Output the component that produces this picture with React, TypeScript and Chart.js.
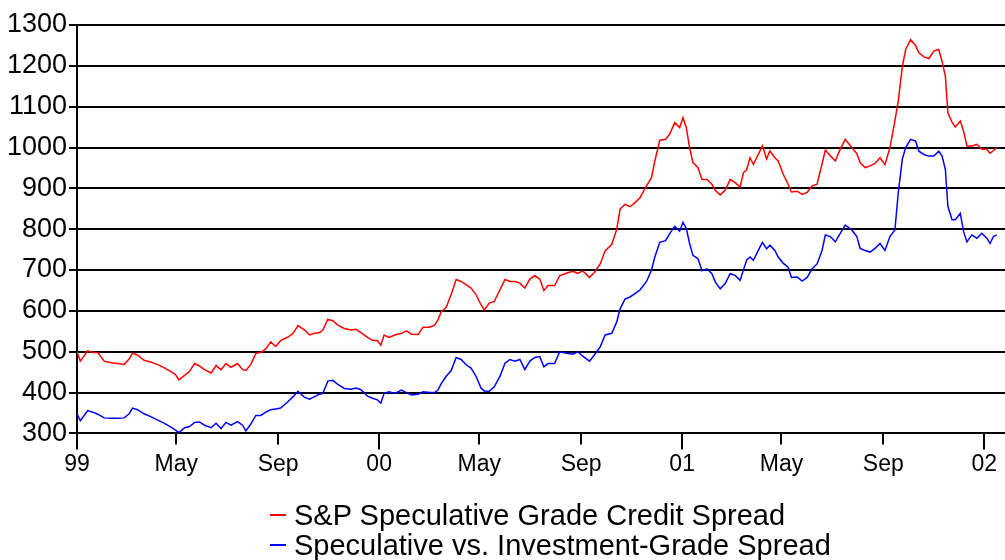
import React, { useEffect, useRef } from "react";
import { Chart, registerables } from "chart.js";

Chart.register(...registerables);

// Days since 1 Jan 1999
const days = [
  0, 4, 13, 19, 25, 33, 41, 49, 57, 63, 67, 73, 81, 89, 97, 105, 113, 119, 123, 130, 136, 142, 148, 154, 162, 168, 174, 180, 186, 194, 200, 204, 210, 216, 222, 228, 234, 240, 246, 255, 261, 267,
  275, 281, 287, 293, 297, 303, 309, 315, 323, 331, 337, 343, 351, 357, 363, 367, 371, 377, 384, 392, 398, 404, 412, 418, 426, 432, 436, 440, 446, 452, 458, 464, 470, 476, 482, 488, 492, 498, 504, 511, 517, 523, 529, 535, 541, 547, 553,
  559, 564, 569, 577, 583, 591, 599, 605, 611, 619, 625, 632, 638, 646, 652, 656, 662, 668, 674, 680, 688, 694, 698, 704, 711, 716, 722, 728, 732, 736, 740, 744, 750, 755, 761, 767, 771, 777, 783, 789, 795, 801, 805, 809, 813, 817, 823, 828, 833,
  837, 843, 847, 853, 859, 863, 870, 876, 882, 888, 894, 900, 904, 910, 916, 922, 928, 936, 942, 946, 952, 958, 964, 970, 976, 982, 988, 992, 997, 1001, 1007, 1013, 1017, 1023, 1029, 1035, 1041, 1045, 1049, 1052, 1057, 1061, 1067, 1071, 1075, 1081, 1087, 1093, 1099, 1103, 1107, 1111,
];

const speculativeGradeSpread = [
  500, 477, 502, 498, 498, 477, 473, 471, 469, 482, 496, 492, 479, 475, 469, 461, 452, 444, 431, 442, 452, 471, 465, 456, 448, 466, 456, 471, 462, 471, 456, 454, 469, 496, 498, 507, 524, 513, 527, 536, 545, 564,
  553, 541, 545, 547, 553, 579, 576, 565, 557, 553, 555, 547, 535, 528, 527, 516, 541, 535, 541, 545, 551, 543, 542, 560, 560, 565, 578, 598, 609, 640, 677, 672, 664, 656, 640, 615, 602, 619, 623, 652, 677, 672, 672, 668, 656, 678, 686,
  678, 650, 662, 662, 686, 692, 697, 692, 698, 682, 694, 715, 747, 763, 800, 849, 861, 855, 865, 877, 906, 926, 967, 1018, 1020, 1033, 1061, 1049, 1073, 1049, 1000, 963, 951, 922, 922, 910, 895, 884, 895, 922, 914, 903, 938, 946, 975, 959, 983, 1004, 972,
  992, 975, 967, 935, 910, 891, 893, 885, 890, 906, 910, 960, 994, 980, 967, 996, 1020, 1000, 985, 963, 951, 955, 961, 975, 958, 1000, 1065, 1113, 1198, 1240, 1264, 1250, 1232, 1222, 1218, 1236, 1240, 1211, 1174, 1085, 1062, 1050, 1065, 1040, 1004, 1004, 1008, 996, 996, 986, 992, 1000,
];

const specVsInvestmentSpread = [
  348, 331, 356, 352, 347, 338, 337, 337, 338, 348, 362, 358, 348, 341, 333, 325, 316, 308, 302, 314, 317, 327, 328, 320, 314, 325, 312, 327, 320, 329, 320, 306, 323, 344, 344, 352, 358, 360, 362, 378, 390, 403,
  388, 384, 390, 396, 398, 428, 430, 420, 410, 408, 411, 407, 391, 386, 382, 374, 398, 402, 398, 406, 400, 394, 396, 402, 400, 400, 406, 422, 440, 454, 486, 481, 468, 460, 440, 411, 404, 403, 414, 440, 472, 481, 477, 481, 456, 477, 486,
  488, 463, 471, 471, 500, 496, 494, 500, 489, 477, 492, 512, 541, 545, 573, 605, 629, 634, 642, 651, 672, 700, 732, 768, 772, 789, 807, 795, 817, 802, 765, 736, 728, 698, 703, 691, 671, 654, 667, 691, 687, 675, 700, 725, 732, 724, 748, 768, 752,
  761, 748, 732, 717, 707, 682, 683, 673, 682, 703, 715, 748, 786, 782, 769, 790, 810, 798, 782, 753, 748, 744, 753, 765, 748, 782, 798, 888, 972, 1000, 1020, 1016, 991, 983, 979, 979, 991, 979, 946, 856, 823, 823, 839, 794, 769, 786, 778, 790, 778, 765, 782, 786,
];

const tickDays = [0, 120, 243, 365, 486, 609, 731, 851, 974, 1096];
const tickLabels = ["99", "May", "Sep", "00", "May", "Sep", "01", "May", "Sep", "02"];
const yearTickDays = [0, 365, 731, 1096];

const seriesNames = ["S&P Speculative Grade Credit Spread", "Speculative vs. Investment-Grade Spread"];
const seriesColors = ["#ff0000", "#0000ff"];

const FONT = '"Liberation Sans", Arial, sans-serif';

const yearTicksPlugin = {
  id: "yearTicks",
  afterDraw(chart: any) {
    const xs = chart.scales.x;
    const ctx = chart.ctx;
    const bottom = chart.chartArea.bottom;
    ctx.save();
    ctx.strokeStyle = "#000";
    ctx.lineWidth = 2;
    yearTickDays.forEach((d) => {
      const px = Math.round(xs.getPixelForValue(d));
      ctx.beginPath();
      ctx.moveTo(px, bottom + 10);
      ctx.lineTo(px, bottom + 16);
      ctx.stroke();
    });
    ctx.restore();
  },
};

export default function App() {
  const canvasRef = useRef<HTMLCanvasElement | null>(null);

  useEffect(() => {
    document.body.style.margin = "0";
    const series = [speculativeGradeSpread, specVsInvestmentSpread];
    const chart = new Chart(canvasRef.current as HTMLCanvasElement, {
      type: "line",
      data: {
        datasets: series.map((vals, i) => ({
          label: seriesNames[i],
          data: days.map((d, j) => ({ x: d, y: vals[j] })),
          borderColor: seriesColors[i],
          backgroundColor: seriesColors[i],
          borderWidth: 1.5,
          pointRadius: 0,
          tension: 0,
          fill: false,
        })),
      },
      options: {
        animation: false,
        responsive: true,
        maintainAspectRatio: false,
        layout: { padding: { top: 25, left: 0, right: 0, bottom: 76 } },
        plugins: { legend: { display: false }, tooltip: { enabled: false } },
        scales: {
          x: {
            type: "linear",
            min: 0,
            max: 1121,
            afterBuildTicks: (scale: any) => {
              scale.ticks = tickDays.map((v) => ({ value: v }));
            },
            ticks: {
              autoSkip: false,
              maxRotation: 0,
              padding: 6,
              color: "#000",
              font: { family: FONT, size: 23 },
              callback: (v: any) => {
                const i = tickDays.indexOf(Number(v));
                return i >= 0 ? tickLabels[i] : "";
              },
            },
            grid: { drawOnChartArea: false, drawTicks: true, tickLength: 11, color: "#000", lineWidth: 2 },
            border: { color: "#000", width: 2 },
          },
          y: {
            min: 300,
            max: 1300,
            afterFit: (scale: any) => {
              scale.width = 77;
            },
            ticks: {
              stepSize: 100,
              padding: 2,
              color: "#000",
              font: { family: FONT, size: 27 },
              callback: (v: any) => String(v),
            },
            grid: { color: "#000", lineWidth: 2, tickLength: 8 },
            border: { color: "#000", width: 2 },
          },
        },
      },
      plugins: [yearTicksPlugin],
    });
    return () => chart.destroy();
  }, []);

  return (
    <div style={{ position: "fixed", left: 0, top: 0, width: 1005, height: 560, background: "#fff" }}>
      <canvas ref={canvasRef} />
      <div
        style={{
          position: "absolute",
          left: 270,
          top: 500,
          fontFamily: FONT,
          fontSize: 29,
          lineHeight: "30px",
          color: "#000",
          whiteSpace: "nowrap",
        }}
      >
        {seriesNames.map((name, i) => (
          <div key={name} style={{ display: "flex", alignItems: "center" }}>
            <span style={{ display: "inline-block", width: 16, height: 2, background: seriesColors[i], marginRight: 8 }} />
            <span>{name}</span>
          </div>
        ))}
      </div>
    </div>
  );
}
